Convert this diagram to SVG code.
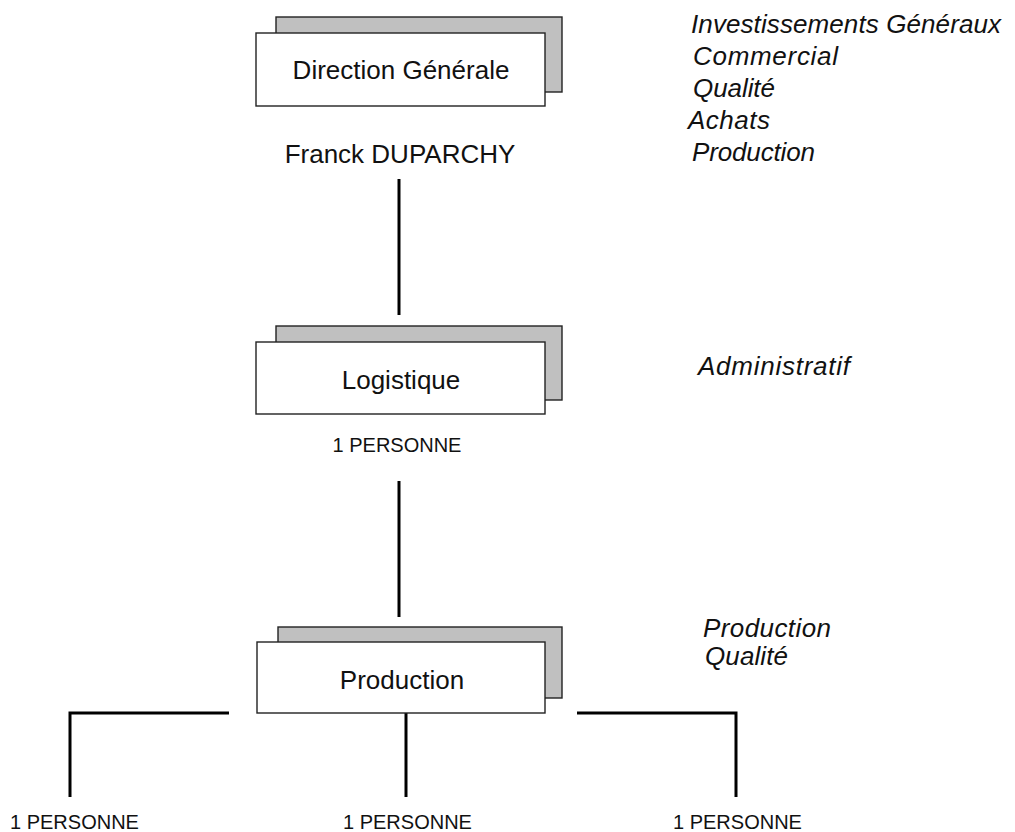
<svg xmlns="http://www.w3.org/2000/svg" width="1015" height="832" viewBox="0 0 1015 832">
<style>
.shadow{fill:#c0c0c0;stroke:#222;stroke-width:1.4}
.box{fill:#fff;stroke:#222;stroke-width:1.4}
.lbl{font-family:"Liberation Sans",Arial,sans-serif;font-size:26px;fill:#111;text-anchor:middle}
.sub{font-family:"Liberation Sans",Arial,sans-serif;font-size:20px;fill:#111}
.it{font-family:"Liberation Sans",Arial,sans-serif;font-size:26px;font-style:italic;fill:#111}
.conn{fill:none;stroke:#000;stroke-width:3}
</style>
<rect width="1015" height="832" fill="#fff"/>
<g id="connectors">
<line class="conn" x1="399" y1="179" x2="399" y2="315"/>
<line class="conn" x1="399" y1="481" x2="399" y2="617"/>
<path class="conn" d="M229,713 H70 V797"/>
<line class="conn" x1="406" y1="713" x2="406" y2="797"/>
<path class="conn" d="M577,713 H736 V797"/>
</g>
<g id="direction">
<rect class="shadow" x="276" y="17" width="286" height="75"/>
<rect class="box" x="256" y="33" width="289" height="73"/>
<text class="lbl" x="401" y="79">Direction Générale</text>
<text class="lbl" x="400" y="163">Franck DUPARCHY</text>
</g>
<g id="logistique">
<rect class="shadow" x="276" y="326" width="286" height="74"/>
<rect class="box" x="256" y="342" width="289" height="72"/>
<text class="lbl" x="401" y="389">Logistique</text>
<text class="sub" x="397" y="452" text-anchor="middle">1 PERSONNE</text>
</g>
<g id="production">
<rect class="shadow" x="278" y="627" width="284" height="71"/>
<rect class="box" x="257" y="642" width="288" height="71"/>
<text class="lbl" x="402" y="689">Production</text>
</g>
<g id="personnes">
<text class="sub" x="10" y="829">1 PERSONNE</text>
<text class="sub" x="343" y="829">1 PERSONNE</text>
<text class="sub" x="673" y="829">1 PERSONNE</text>
</g>
<g id="notes">
<text class="it" x="691" y="33" textLength="310">Investissements Généraux</text>
<text class="it" x="693" y="65" textLength="145">Commercial</text>
<text class="it" x="693" y="97" textLength="82">Qualité</text>
<text class="it" x="688" y="129" textLength="82">Achats</text>
<text class="it" x="692" y="161" textLength="123">Production</text>
<text class="it" x="698" y="375" textLength="152">Administratif</text>
<text class="it" x="703" y="637" textLength="128">Production</text>
<text class="it" x="705" y="665" textLength="83">Qualité</text>
</g>
</svg>
